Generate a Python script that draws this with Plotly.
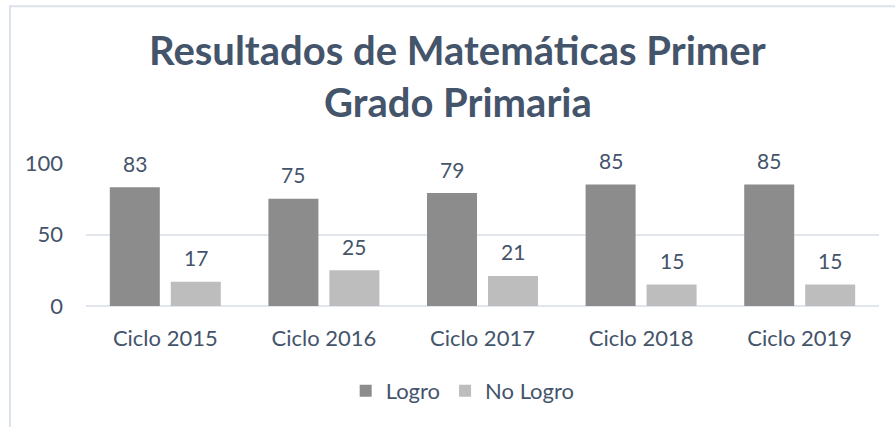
import plotly.graph_objects as go

categories = ["Ciclo 2015", "Ciclo 2016", "Ciclo 2017", "Ciclo 2018", "Ciclo 2019"]
logro = [83, 75, 79, 85, 85]
no_logro = [17, 25, 21, 15, 15]
series_names = ["Logro", "No Logro"]
title_lines = ["Resultados de Matemáticas Primer", "Grado Primaria"]
y_ticks = [0, 50, 100]

TXT = "#44546a"
FONT = "Lato"
GRID = "#e1e5ec"

fig = go.Figure()
fig.add_trace(go.Bar(x=categories, y=logro, name=series_names[0],
                     marker=dict(color="#8c8c8c", line=dict(width=0))))
fig.add_trace(go.Bar(x=categories, y=no_logro, name=series_names[1],
                     marker=dict(color="#bdbdbd", line=dict(width=0))))

annotations = []
for vals, shift in ((logro, -30.5), (no_logro, 30.5)):
    for c, v in zip(categories, vals):
        annotations.append(dict(x=c, y=v, xref="x", yref="y", text=str(v),
                                showarrow=False, xshift=shift, yshift=24,
                                yanchor="middle",
                                font=dict(family=FONT, size=21, color=TXT)))

annotations.append(dict(x=0.4685, y=1.79, xref="paper", yref="paper",
                        text="<b>" + title_lines[0] + "</b>", showarrow=False,
                        xanchor="center", yanchor="middle",
                        font=dict(family=FONT, size=40, color=TXT)))
annotations.append(dict(x=0.4685, y=1.425, xref="paper", yref="paper",
                        text="<b>" + title_lines[1] + "</b>", showarrow=False,
                        xanchor="center", yanchor="middle",
                        font=dict(family=FONT, size=40, color=TXT)))

fig.update_layout(
    width=895, height=427,
    margin=dict(l=86, r=16, t=163, b=121),
    paper_bgcolor="white", plot_bgcolor="white",
    barmode="group", bargap=0.231, bargroupgap=0.18,
    showlegend=True,
    legend=dict(orientation="h", x=0.475, y=-0.594, xanchor="center",
                yanchor="middle", font=dict(family=FONT, size=22, color=TXT),
                itemwidth=30, traceorder="normal"),
    annotations=annotations,
    shapes=[
        dict(type="line", xref="paper", yref="paper",
             x0=-0.0958, x1=1.03, y0=2.097, y1=2.097,
             line=dict(color="#dde2ea", width=2)),
        dict(type="line", xref="paper", yref="paper",
             x0=-0.0958, x1=-0.0958, y0=2.104, y1=-0.86,
             line=dict(color="#dde2ea", width=2)),
    ],
    font=dict(family=FONT, color=TXT),
)
fig.update_xaxes(showgrid=False, showline=False, ticks="",
                 tickfont=dict(family=FONT, size=22, color=TXT),
                 ticklabelstandoff=17)
fig.update_yaxes(range=[0, 100], tickvals=y_ticks, showgrid=True,
                 gridcolor=GRID, gridwidth=2, zeroline=True,
                 zerolinecolor=GRID, zerolinewidth=2, showline=False,
                 ticks="", tickfont=dict(family=FONT, size=22, color=TXT),
                 ticklabelstandoff=22)

fig.write_html("out.html", config={"displayModeBar": False},
               post_script="document.body.style.margin='0';document.body.style.overflow='hidden';")
